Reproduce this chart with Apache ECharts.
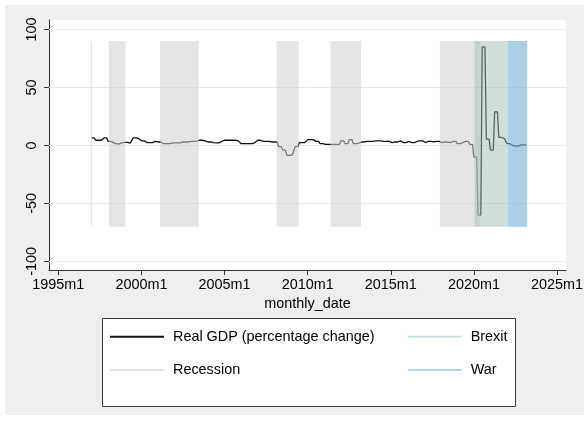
<!DOCTYPE html>
<html><head><meta charset="utf-8">
<script src="https://cdn.jsdelivr.net/npm/echarts@6/dist/echarts.min.js"></script>
<style>html,body{margin:0;padding:0;background:#fff}#c{width:586px;height:421px}</style>
</head><body><div id="c"></div>
<script>
// months counted from 1995m1 (= 0)
const firstMonth = 24; // 1997m1
// Real GDP percentage change, one value per quarter 1997Q1..2023Q1 (held for each month of the quarter)
const gdpQuarterly = [
  6.5, 4.5, 4.5, 6.5, 3.5, 2.2, 1.4, 2.2, 2.6, 2,
  6.5, 6, 4, 2.5, 2.5, 3.5, 3, 1.5, 1.5, 2,
  2.3, 2.3, 3, 3, 3.5, 3.7, 4.5, 4, 3, 2.5,
  2.2, 3.5, 4.5, 4.5, 4.5, 4, 1.5, 1.5, 1.5, 2.5,
  4.5, 3.5, 3.5, 3, 3, -1, -4, -8.5, -8, -1,
  2.5, 2.5, 5, 5, 3.5, 1.5, 1, 1, 1, 1,
  4, 1.5, 5, 1.5, 2, 3, 3.5, 3.5, 4, 4,
  3.5, 3.5, 2.5, 3, 4, 2.5, 3.5, 2.5, 3.5, 4,
  2.5, 3.5, 3, 3.5, 2.5, 3, 2.5, 3.5, 1.5, 2.5,
  3.5, 1, -10, -60, 85, 5.5, -4, 29, 7, 6,
  1.5, 0, -0.5, 0.5, 0.5
];
// shaded periods [first month, last month]
const recessionSpans = [[24,24],[37,48],[74,101],[158,173],[197,218],[276,304]];
const brexitSpans = [[301,324]];
const warSpans = [[325,338]];
const bandLow = -70, bandHigh = 90;
const xTickValues = [0,60,120,180,240,300,360];
const xTickLabels = ['1995m1','2000m1','2005m1','2010m1','2015m1','2020m1','2025m1'];
const yTickValues = [-100,-50,0,50,100];
const seriesNames = ['Real GDP (percentage change)','Recession','Brexit','War'];

const gdpMonthly = [];
for (let i = 0; i < gdpQuarterly.length * 3; i++) {
  gdpMonthly.push([firstMonth + i, gdpQuarterly[Math.floor(i / 3)]]);
}
function areas(spans) {
  return spans.map(s => [{xAxis: s[0] - 0.5, yAxis: bandLow}, {xAxis: s[1] + 0.5, yAxis: bandHigh}]);
}
const font = 'Liberation Sans, Arial, Helvetica, sans-serif';
const fs = 14.4;
const legendBase = {
  orient: 'vertical', top: 329.7, padding: 0, itemWidth: 54, itemHeight: 14, itemGap: 19.3, z: 5,
  selectedMode: false, itemStyle: {opacity: 0},
  textStyle: {fontSize: fs, color: '#000', lineHeight: 14, padding: [0,0,0,4], fontFamily: font}
};
const chart = echarts.init(document.getElementById('c'), null, {renderer: 'canvas'});
chart.setOption({
  animation: false,
  backgroundColor: '#ffffff',
  textStyle: {fontFamily: font},
  graphic: [
    {type: 'rect', z: -100, shape: {x: 5, y: 5, width: 579, height: 410}, style: {fill: '#efefef'}, silent: true},
    {type: 'rect', z: 1, shape: {x: 102.5, y: 318.5, width: 413, height: 88}, style: {fill: '#ffffff', stroke: '#3a3a3a', lineWidth: 1}, silent: true}
  ],
  grid: {left: 49, right: 16.5, top: 20, bottom: 151, show: true, backgroundColor: '#ffffff', borderWidth: 0},
  xAxis: {
    type: 'value', min: -6.7, max: 366.6,
    name: 'monthly_date', nameLocation: 'middle', nameGap: 26,
    nameTextStyle: {fontSize: fs, color: '#000', fontFamily: font},
    axisLine: {show: true, onZero: false, lineStyle: {color: '#333', width: 1}},
    axisTick: {show: true, length: 5, customValues: xTickValues, lineStyle: {color: '#333'}},
    axisLabel: {customValues: xTickValues, fontSize: fs, color: '#000', margin: 8, fontFamily: font,
      formatter: v => xTickLabels[xTickValues.indexOf(v)]},
    splitLine: {show: false}
  },
  yAxis: {
    type: 'value', min: -107.4, max: 108.2,
    axisLine: {show: true, onZero: false, lineStyle: {color: '#333', width: 1}},
    axisTick: {show: true, length: 5, customValues: yTickValues, lineStyle: {color: '#333'}},
    axisLabel: {customValues: yTickValues, fontSize: fs, color: '#000', rotate: 90, margin: 10, fontFamily: font},
    splitLine: {show: false}
  },
  legend: [
    Object.assign({data: [seriesNames[0], seriesNames[1]], left: 109}, legendBase),
    Object.assign({data: [seriesNames[2], seriesNames[3]], left: 406.7}, legendBase)
  ],
  series: [
    {
      name: seriesNames[0], type: 'line', data: gdpMonthly, showSymbol: false, symbol: 'none', z: 2,
      lineStyle: {color: '#111111', width: 1.3}, itemStyle: {color: '#111111'},
      markLine: {
        silent: true, symbol: 'none', z: 1, label: {show: false}, animation: false,
        lineStyle: {color: '#e3ebee', width: 1, type: 'solid'},
        emphasis: {disabled: true},
        data: yTickValues.map(v => ({yAxis: v}))
      }
    },
    {
      name: seriesNames[1], type: 'line', data: [], symbol: 'none',
      lineStyle: {color: '#e2e2e2', width: 1.3}, itemStyle: {color: '#e2e2e2'},
      markArea: {silent: true, z: 3, itemStyle: {color: 'rgb(208,208,208)', opacity: 0.55}, emphasis: {disabled: true}, data: areas(recessionSpans)}
    },
    {
      name: seriesNames[2], type: 'line', data: [], symbol: 'none',
      lineStyle: {color: '#c9dfe0', width: 1.3}, itemStyle: {color: '#c9dfe0'},
      markArea: {silent: true, z: 3, itemStyle: {color: 'rgb(163,188,180)', opacity: 0.49}, emphasis: {disabled: true}, data: areas(brexitSpans)}
    },
    {
      name: seriesNames[3], type: 'line', data: [], symbol: 'none',
      lineStyle: {color: '#b5d7ea', width: 1.3}, itemStyle: {color: '#b5d7ea'},
      markArea: {silent: true, z: 3, itemStyle: {color: 'rgb(123,183,214)', opacity: 0.65}, emphasis: {disabled: true}, data: areas(warSpans)}
    }
  ]
});
</script></body></html>
